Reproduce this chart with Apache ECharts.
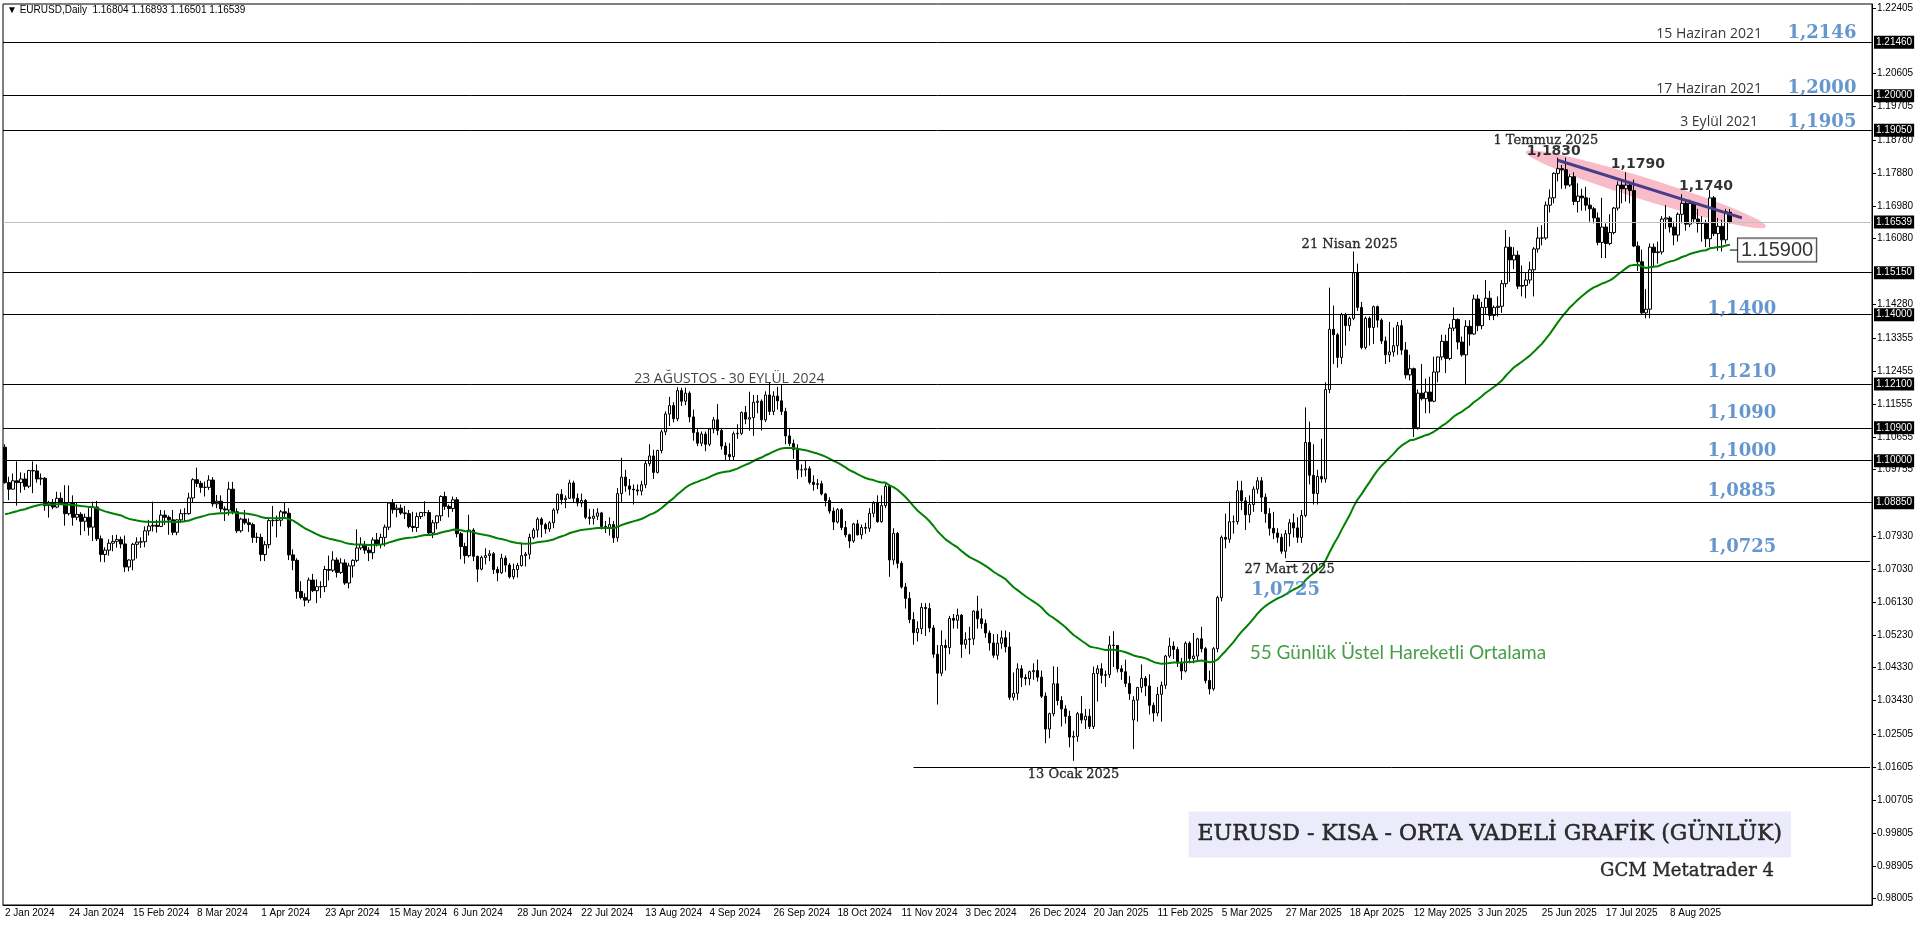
<!DOCTYPE html>
<html><head><meta charset="utf-8">
<script src="https://cdn.jsdelivr.net/npm/echarts@6.0.0/dist/echarts.min.js"></script>
<style>html,body{margin:0;padding:0;background:#fff;overflow:hidden}#c{width:1920px;height:927px}</style>
</head><body><div id="c"></div>
<script>
// ---- DATA: daily candles [open, high, low, close] per month ----
const m2024_01=[[1.1037,1.1045,1.0937,1.0940],[1.0940,1.0956,1.0892,1.0922],[1.0922,1.0965,1.0921,1.0945],[1.0945,1.0998,1.0877,1.0940],[1.0940,1.0968,1.0912,1.0950],[1.0950,1.0966,1.0920,1.0930],[1.0930,1.0975,1.0925,1.0973],[1.0973,1.0998,1.0911,1.0972],[1.0972,1.0990,1.0940,1.0950],[1.0950,1.0965,1.0933,1.0952],[1.0952,1.0955,1.0863,1.0877],[1.0877,1.0890,1.0844,1.0884],[1.0884,1.0895,1.0867,1.0873],[1.0873,1.0915,1.0870,1.0897],[1.0897,1.0913,1.0880,1.0883],[1.0883,1.0933,1.0822,1.0855],[1.0855,1.0932,1.0850,1.0885],[1.0885,1.0905,1.0822,1.0845],[1.0845,1.0886,1.0837,1.0853],[1.0853,1.0859,1.0796,1.0834],[1.0834,1.0855,1.0807,1.0845],[1.0845,1.0870,1.0795,1.0818]];
const m2024_02=[[1.0818,1.0888,1.0780,1.0873],[1.0873,1.0890,1.0780,1.0786],[1.0786,1.0795,1.0723,1.0743],[1.0743,1.0763,1.0722,1.0755],[1.0755,1.0785,1.0740,1.0774],[1.0774,1.0796,1.0752,1.0779],[1.0779,1.0797,1.0762,1.0784],[1.0784,1.0792,1.0760,1.0772],[1.0772,1.0795,1.0695,1.0709],[1.0709,1.0730,1.0697,1.0728],[1.0728,1.0775,1.0700,1.0771],[1.0771,1.0790,1.0732,1.0777],[1.0777,1.0790,1.0761,1.0778],[1.0778,1.0820,1.0763,1.0808],[1.0808,1.0838,1.0795,1.0821],[1.0821,1.0888,1.0806,1.0823],[1.0823,1.0838,1.0803,1.0820],[1.0820,1.0865,1.0818,1.0851],[1.0851,1.0864,1.0824,1.0845],[1.0845,1.0850,1.0797,1.0838],[1.0838,1.0865,1.0796,1.0804]];
const m2024_03=[[1.0804,1.0840,1.0796,1.0838],[1.0838,1.0867,1.0830,1.0855],[1.0855,1.0870,1.0833,1.0855],[1.0855,1.0912,1.0852,1.0898],[1.0898,1.0952,1.0885,1.0948],[1.0948,1.0981,1.0928,1.0938],[1.0938,1.0945,1.0912,1.0927],[1.0927,1.0943,1.0902,1.0927],[1.0927,1.0960,1.0920,1.0947],[1.0947,1.0955,1.0874,1.0882],[1.0882,1.0906,1.0870,1.0889],[1.0889,1.0905,1.0858,1.0868],[1.0868,1.0875,1.0835,1.0865],[1.0865,1.0942,1.0850,1.0922],[1.0922,1.0942,1.0853,1.0860],[1.0860,1.0870,1.0802,1.0808],[1.0808,1.0844,1.0803,1.0840],[1.0840,1.0865,1.0825,1.0830],[1.0830,1.0842,1.0805,1.0825],[1.0825,1.0830,1.0775,1.0790],[1.0790,1.0803,1.0775,1.0790]];
const m2024_04=[[1.0790,1.0800,1.0725,1.0743],[1.0743,1.0780,1.0725,1.0770],[1.0770,1.0840,1.0760,1.0836],[1.0836,1.0876,1.0820,1.0836],[1.0836,1.0850,1.0790,1.0837],[1.0837,1.0865,1.0820,1.0860],[1.0860,1.0885,1.0842,1.0856],[1.0856,1.0870,1.0728,1.0742],[1.0742,1.0757,1.0700,1.0727],[1.0727,1.0733,1.0622,1.0642],[1.0642,1.0670,1.0620,1.0625],[1.0625,1.0637,1.0601,1.0618],[1.0618,1.0680,1.0610,1.0673],[1.0673,1.0690,1.0640,1.0644],[1.0644,1.0675,1.0610,1.0655],[1.0655,1.0670,1.0624,1.0655],[1.0655,1.0712,1.0640,1.0702],[1.0702,1.0740,1.0672,1.0700],[1.0700,1.0752,1.0695,1.0728],[1.0728,1.0735,1.0680,1.0694],[1.0694,1.0733,1.0690,1.0720],[1.0720,1.0730,1.0660,1.0665]];
const m2024_05=[[1.0665,1.0720,1.0650,1.0712],[1.0712,1.0730,1.0680,1.0727],[1.0727,1.0812,1.0722,1.0761],[1.0761,1.0790,1.0755,1.0770],[1.0770,1.0780,1.0745,1.0755],[1.0755,1.0763,1.0725,1.0748],[1.0748,1.0790,1.0730,1.0783],[1.0783,1.0802,1.0765,1.0770],[1.0770,1.0800,1.0760,1.0790],[1.0790,1.0825,1.0765,1.0818],[1.0818,1.0885,1.0810,1.0884],[1.0884,1.0895,1.0855,1.0866],[1.0866,1.0880,1.0845,1.0870],[1.0870,1.0880,1.0852,1.0857],[1.0857,1.0876,1.0840,1.0855],[1.0855,1.0865,1.0815,1.0820],[1.0820,1.0860,1.0805,1.0817],[1.0817,1.0858,1.0805,1.0847],[1.0847,1.0860,1.0840,1.0858],[1.0858,1.0889,1.0848,1.0858],[1.0858,1.0865,1.0795,1.0802],[1.0802,1.0838,1.0788,1.0830],[1.0830,1.0850,1.0812,1.0849]];
const m2024_06=[[1.0849,1.0905,1.0835,1.0902],[1.0902,1.0915,1.0865,1.0875],[1.0875,1.0880,1.0845,1.0869],[1.0869,1.0902,1.0860,1.0893],[1.0893,1.0900,1.0790,1.0800],[1.0800,1.0805,1.0730,1.0765],[1.0765,1.0775,1.0718,1.0740],[1.0740,1.0852,1.0735,1.0810],[1.0810,1.0815,1.0725,1.0738],[1.0738,1.0740,1.0668,1.0703],[1.0703,1.0740,1.0700,1.0735],[1.0735,1.0760,1.0716,1.0740],[1.0740,1.0755,1.0725,1.0745],[1.0745,1.0750,1.0690,1.0702],[1.0702,1.0710,1.0670,1.0693],[1.0693,1.0745,1.0690,1.0733],[1.0733,1.0740,1.0695,1.0714],[1.0714,1.0720,1.0677,1.0682],[1.0682,1.0718,1.0675,1.0702],[1.0702,1.0720,1.0680,1.0713]];
const m2024_07=[[1.0713,1.0776,1.0710,1.0740],[1.0740,1.0750,1.0710,1.0744],[1.0744,1.0800,1.0730,1.0790],[1.0790,1.0816,1.0785,1.0810],[1.0810,1.0845,1.0790,1.0840],[1.0840,1.0845,1.0790,1.0825],[1.0825,1.0830,1.0800,1.0813],[1.0813,1.0835,1.0805,1.0830],[1.0830,1.0870,1.0815,1.0865],[1.0865,1.0910,1.0855,1.0908],[1.0908,1.0922,1.0880,1.0893],[1.0893,1.0905,1.0870,1.0897],[1.0897,1.0948,1.0895,1.0939],[1.0939,1.0945,1.0885,1.0897],[1.0897,1.0910,1.0875,1.0884],[1.0884,1.0910,1.0873,1.0891],[1.0891,1.0895,1.0840,1.0845],[1.0845,1.0868,1.0825,1.0842],[1.0842,1.0868,1.0825,1.0848],[1.0848,1.0870,1.0838,1.0857],[1.0857,1.0860,1.0812,1.0820],[1.0820,1.0835,1.0802,1.0817],[1.0817,1.0845,1.0795,1.0825]];
const m2024_08=[[1.0825,1.0835,1.0775,1.0789],[1.0789,1.0925,1.0778,1.0910],[1.0910,1.1008,1.0885,1.0955],[1.0955,1.0975,1.0915,1.0931],[1.0931,1.0950,1.0905,1.0922],[1.0922,1.0935,1.0880,1.0920],[1.0920,1.0935,1.0905,1.0917],[1.0917,1.0945,1.0905,1.0934],[1.0934,1.1000,1.0925,1.0992],[1.0992,1.1045,1.0985,1.1013],[1.1013,1.1030,1.0950,1.0968],[1.0968,1.1030,1.0965,1.1028],[1.1028,1.1085,1.1020,1.1079],[1.1079,1.1135,1.1070,1.1128],[1.1128,1.1175,1.1095,1.1151],[1.1151,1.1160,1.1105,1.1115],[1.1115,1.1201,1.1108,1.1192],[1.1192,1.1200,1.1150,1.1163],[1.1163,1.1200,1.1152,1.1185],[1.1185,1.1190,1.1105,1.1120],[1.1120,1.1140,1.1055,1.1077],[1.1077,1.1090,1.1040,1.1048]];
const m2024_09=[[1.1048,1.1080,1.1040,1.1073],[1.1073,1.1080,1.1026,1.1045],[1.1045,1.1090,1.1040,1.1087],[1.1087,1.1120,1.1075,1.1112],[1.1112,1.1155,1.1070,1.1083],[1.1083,1.1090,1.1030,1.1040],[1.1040,1.1050,1.1002,1.1017],[1.1017,1.1048,1.1000,1.1011],[1.1011,1.1080,1.1000,1.1074],[1.1074,1.1100,1.1060,1.1075],[1.1075,1.1135,1.1070,1.1132],[1.1132,1.1150,1.1100,1.1114],[1.1114,1.1189,1.1082,1.1118],[1.1118,1.1180,1.1068,1.1160],[1.1160,1.1180,1.1130,1.1163],[1.1163,1.1168,1.1083,1.1112],[1.1112,1.1190,1.1106,1.1180],[1.1180,1.1214,1.1125,1.1135],[1.1135,1.1190,1.1125,1.1177],[1.1177,1.1202,1.1140,1.1164],[1.1164,1.1209,1.1125,1.1135]];
const m2024_10=[[1.1135,1.1145,1.1045,1.1068],[1.1068,1.1090,1.1040,1.1047],[1.1047,1.1058,1.1005,1.1031],[1.1031,1.1045,1.0950,1.0975],[1.0975,1.0990,1.0955,1.0975],[1.0975,1.1000,1.0957,1.0978],[1.0978,1.0985,1.0935,1.0941],[1.0941,1.0960,1.0918,1.0935],[1.0935,1.0950,1.0922,1.0937],[1.0937,1.0945,1.0905,1.0909],[1.0909,1.0912,1.0875,1.0891],[1.0891,1.0900,1.0855,1.0862],[1.0862,1.0872,1.0810,1.0832],[1.0832,1.0870,1.0828,1.0866],[1.0866,1.0870,1.0810,1.0817],[1.0817,1.0835,1.0790,1.0797],[1.0797,1.0800,1.0761,1.0780],[1.0780,1.0830,1.0775,1.0827],[1.0827,1.0838,1.0795,1.0797],[1.0797,1.0825,1.0785,1.0817],[1.0817,1.0830,1.0800,1.0815],[1.0815,1.0870,1.0805,1.0856],[1.0856,1.0889,1.0845,1.0884]];
const m2024_11=[[1.0884,1.0905,1.0830,1.0833],[1.0833,1.0905,1.0830,1.0877],[1.0877,1.0937,1.0870,1.0930],[1.0930,1.0935,1.0682,1.0728],[1.0728,1.0815,1.0715,1.0801],[1.0801,1.0805,1.0705,1.0719],[1.0719,1.0725,1.0650,1.0654],[1.0654,1.0665,1.0595,1.0623],[1.0623,1.0640,1.0555,1.0565],[1.0565,1.0585,1.0496,1.0529],[1.0529,1.0560,1.0505,1.0540],[1.0540,1.0610,1.0525,1.0598],[1.0598,1.0610,1.0520,1.0595],[1.0595,1.0610,1.0530,1.0542],[1.0542,1.0550,1.0460,1.0470],[1.0470,1.0495,1.0332,1.0418],[1.0418,1.0535,1.0410,1.0494],[1.0494,1.0510,1.0425,1.0488],[1.0488,1.0575,1.0470,1.0568],[1.0568,1.0580,1.0540,1.0563],[1.0563,1.0595,1.0540,1.0577]];
const m2024_12=[[1.0577,1.0580,1.0460,1.0497],[1.0497,1.0530,1.0485,1.0510],[1.0510,1.0545,1.0470,1.0512],[1.0512,1.0590,1.0495,1.0588],[1.0588,1.0630,1.0540,1.0567],[1.0567,1.0595,1.0540,1.0554],[1.0554,1.0565,1.0515,1.0528],[1.0528,1.0535,1.0480,1.0501],[1.0501,1.0525,1.0460,1.0467],[1.0467,1.0525,1.0455,1.0500],[1.0500,1.0535,1.0485,1.0515],[1.0515,1.0535,1.0475,1.0490],[1.0490,1.0530,1.0345,1.0352],[1.0352,1.0420,1.0343,1.0363],[1.0363,1.0445,1.0345,1.0430],[1.0430,1.0440,1.0380,1.0406],[1.0406,1.0415,1.0385,1.0403],[1.0403,1.0425,1.0385,1.0422],[1.0422,1.0445,1.0400,1.0425],[1.0425,1.0455,1.0395,1.0407],[1.0407,1.0425,1.0350,1.0355]];
const m2025_01=[[1.0355,1.0365,1.0226,1.0265],[1.0265,1.0310,1.0240,1.0307],[1.0307,1.0437,1.0300,1.0389],[1.0389,1.0435,1.0330,1.0343],[1.0343,1.0355,1.0272,1.0320],[1.0320,1.0330,1.0280,1.0300],[1.0300,1.0315,1.0215,1.0243],[1.0243,1.0260,1.0178,1.0245],[1.0245,1.0312,1.0230,1.0307],[1.0307,1.0355,1.0280,1.0290],[1.0290,1.0320,1.0265,1.0300],[1.0300,1.0320,1.0265,1.0272],[1.0272,1.0436,1.0265,1.0417],[1.0417,1.0440,1.0340,1.0430],[1.0430,1.0445,1.0390,1.0412],[1.0412,1.0425,1.0380,1.0414],[1.0414,1.0520,1.0405,1.0495],[1.0495,1.0533,1.0435,1.0494],[1.0494,1.0495,1.0420,1.0430],[1.0430,1.0440,1.0400,1.0422],[1.0422,1.0455,1.0380,1.0390],[1.0390,1.0410,1.0345,1.0362]];
const m2025_02=[[1.0290,1.0355,1.0210,1.0344],[1.0344,1.0380,1.0285,1.0379],[1.0379,1.0442,1.0365,1.0404],[1.0404,1.0410,1.0355,1.0383],[1.0383,1.0415,1.0305,1.0330],[1.0330,1.0338,1.0285,1.0309],[1.0309,1.0380,1.0300,1.0360],[1.0360,1.0395,1.0285,1.0385],[1.0385,1.0468,1.0375,1.0465],[1.0465,1.0515,1.0460,1.0492],[1.0492,1.0505,1.0457,1.0483],[1.0483,1.0490,1.0435,1.0446],[1.0446,1.0460,1.0400,1.0424],[1.0424,1.0505,1.0420,1.0500],[1.0500,1.0505,1.0445,1.0458],[1.0458,1.0528,1.0445,1.0465],[1.0465,1.0515,1.0450,1.0512],[1.0512,1.0545,1.0475,1.0485],[1.0485,1.0490,1.0390,1.0398],[1.0398,1.0425,1.0360,1.0375]];
const m2025_03=[[1.0375,1.0490,1.0370,1.0485],[1.0485,1.0630,1.0475,1.0625],[1.0625,1.0795,1.0615,1.0790],[1.0790,1.0855,1.0760,1.0785],[1.0785,1.0888,1.0775,1.0833],[1.0833,1.0850,1.0800,1.0833],[1.0833,1.0945,1.0825,1.0918],[1.0918,1.0945,1.0865,1.0890],[1.0890,1.0900,1.0810,1.0852],[1.0852,1.0905,1.0830,1.0880],[1.0880,1.0930,1.0860,1.0922],[1.0922,1.0955,1.0910,1.0945],[1.0945,1.0955,1.0860,1.0900],[1.0900,1.0910,1.0830,1.0855],[1.0855,1.0870,1.0795,1.0815],[1.0815,1.0860,1.0785,1.0802],[1.0802,1.0815,1.0775,1.0790],[1.0790,1.0800,1.0745,1.0752],[1.0752,1.0810,1.0733,1.0800],[1.0800,1.0840,1.0765,1.0830],[1.0830,1.0855,1.0790,1.0816]];
const m2025_04=[[1.0816,1.0845,1.0775,1.0790],[1.0790,1.0865,1.0775,1.0850],[1.0850,1.1146,1.0845,1.1050],[1.1050,1.1107,1.0935,1.0960],[1.0960,1.1045,1.0880,1.0910],[1.0910,1.0975,1.0880,1.0957],[1.0957,1.1060,1.0940,1.0950],[1.0950,1.1215,1.0940,1.1195],[1.1195,1.1474,1.1185,1.1360],[1.1360,1.1425,1.1265,1.1345],[1.1345,1.1350,1.1255,1.1283],[1.1283,1.1405,1.1265,1.1400],[1.1400,1.1405,1.1315,1.1370],[1.1370,1.1395,1.1355,1.1390],[1.1390,1.1573,1.1385,1.1515],[1.1515,1.1540,1.1410,1.1420],[1.1420,1.1435,1.1305,1.1310],[1.1310,1.1395,1.1305,1.1390],[1.1390,1.1395,1.1315,1.1365],[1.1365,1.1425,1.1320,1.1422],[1.1422,1.1425,1.1365,1.1385],[1.1385,1.1390,1.1320,1.1328]];
const m2025_05=[[1.1328,1.1340,1.1265,1.1290],[1.1290,1.1380,1.1270,1.1298],[1.1298,1.1365,1.1285,1.1315],[1.1315,1.1380,1.1290,1.1370],[1.1370,1.1385,1.1290,1.1303],[1.1303,1.1325,1.1225,1.1235],[1.1235,1.1290,1.1220,1.1252],[1.1252,1.1255,1.1065,1.1090],[1.1090,1.1195,1.1085,1.1185],[1.1185,1.1265,1.1165,1.1170],[1.1170,1.1225,1.1130,1.1188],[1.1188,1.1230,1.1130,1.1163],[1.1163,1.1285,1.1160,1.1243],[1.1243,1.1285,1.1215,1.1284],[1.1284,1.1345,1.1275,1.1327],[1.1327,1.1345,1.1240,1.1280],[1.1280,1.1375,1.1275,1.1363],[1.1363,1.1420,1.1355,1.1387],[1.1387,1.1390,1.1305,1.1325],[1.1325,1.1340,1.1285,1.1290],[1.1290,1.1385,1.1210,1.1368],[1.1368,1.1385,1.1315,1.1347]];
const m2025_06=[[1.1347,1.1455,1.1345,1.1443],[1.1443,1.1455,1.1355,1.1370],[1.1370,1.1435,1.1360,1.1420],[1.1420,1.1495,1.1400,1.1445],[1.1445,1.1465,1.1385,1.1398],[1.1398,1.1425,1.1385,1.1420],[1.1420,1.1450,1.1395,1.1423],[1.1423,1.1495,1.1405,1.1485],[1.1485,1.1632,1.1475,1.1585],[1.1585,1.1613,1.1490,1.1550],[1.1550,1.1585,1.1525,1.1563],[1.1563,1.1575,1.1470,1.1478],[1.1478,1.1535,1.1450,1.1480],[1.1480,1.1515,1.1445,1.1495],[1.1495,1.1545,1.1485,1.1523],[1.1523,1.1585,1.1450,1.1580],[1.1580,1.1640,1.1570,1.1610],[1.1610,1.1645,1.1590,1.1610],[1.1610,1.1710,1.1605,1.1700],[1.1700,1.1743,1.1680,1.1720],[1.1720,1.1790,1.1705,1.1787]];
const m2025_07=[[1.1787,1.1830,1.1765,1.1800],[1.1800,1.1810,1.1745,1.1797],[1.1797,1.1830,1.1745,1.1755],[1.1755,1.1785,1.1750,1.1778],[1.1778,1.1790,1.1700,1.1710],[1.1710,1.1760,1.1680,1.1725],[1.1725,1.1745,1.1685,1.1720],[1.1720,1.1750,1.1685,1.1700],[1.1700,1.1720,1.1655,1.1690],[1.1690,1.1695,1.1650,1.1665],[1.1665,1.1680,1.1590,1.1598],[1.1598,1.1720,1.1555,1.1640],[1.1640,1.1650,1.1555,1.1595],[1.1595,1.1675,1.1590,1.1625],[1.1625,1.1695,1.1620,1.1692],[1.1692,1.1765,1.1685,1.1755],[1.1755,1.1770,1.1705,1.1745],[1.1745,1.1790,1.1710,1.1755],[1.1755,1.1760,1.1705,1.1740],[1.1740,1.1770,1.1585,1.1588],[1.1588,1.1600,1.1520,1.1545],[1.1545,1.1578,1.1400,1.1405],[1.1405,1.1470,1.1390,1.1415]];
const m2025_08=[[1.1415,1.1595,1.1390,1.1585],[1.1585,1.1595,1.1530,1.1570],[1.1570,1.1600,1.1540,1.1572],[1.1572,1.1670,1.1565,1.1662],[1.1662,1.1700,1.1635,1.1665],[1.1665,1.1670,1.1625,1.1640],[1.1640,1.1655,1.1590,1.1618],[1.1618,1.1680,1.1600,1.1675],[1.1675,1.1730,1.1650,1.1705],[1.1705,1.1715,1.1630,1.1648],[1.1648,1.1715,1.1640,1.1705],[1.1705,1.1710,1.1650,1.1662],[1.1662,1.1690,1.1625,1.1650],[1.1650,1.1670,1.1600,1.1650],[1.1650,1.1660,1.1585,1.1608],[1.1608,1.1742,1.1585,1.1720],[1.1720,1.1725,1.1615,1.1622],[1.1622,1.1665,1.1575,1.1642],[1.1642,1.1660,1.1573,1.1605],[1.1605,1.1690,1.1595,1.1682],[1.16804,1.16893,1.16501,1.16539]];

// calendar
const firstDay = [2024, 0, 2];
const closedDays = ['2024-12-25', '2025-01-01'];
const futureBars = 35;           // empty right margin of the MT4 chart (chart shift)
const monthNames = ['Jan','Feb','Mar','Apr','May','Jun','Jul','Aug','Sep','Oct','Nov','Dec'];

// price axis tick labels, as printed by MT4
const tickLabels = [1.22405,1.20605,1.19705,1.18780,1.17880,1.16980,1.16080,1.14280,1.13355,1.12455,1.11555,1.10655,1.09755,1.07930,1.07030,1.06130,1.05230,1.04330,1.03430,1.02505,1.01605,1.00705,0.99805,0.98905,0.98005];
const priceMin = 0.9783, priceMax = 1.2251;

// horizontal levels
const fullLevels = [1.2146, 1.2000, 1.1905, 1.1515, 1.1400, 1.1210, 1.1090, 1.1000, 1.0885];
const partialLevels = [[320, 1.0725], [227, 1.01605]];   // [start bar, price]

// EMA 55
const emaPeriod = 55, emaSeed = 1.0850;

// trend line and highlight ellipse [bar, price]
const trendLine = [[388, 1.1823], [434, 1.1665]];
const ellipseEnds = [[380, 1.1846], [440, 1.1641]];
const emaTag = [[431, 1.1577], [433, 1.1577]];

// text notes [text, bar, price, kind]
const notes = [
  ['15 Haziran 2021', 439, 1.2169, 'ref'],
  ['1,2146', 454, 1.2171, 'lvl'],
  ['17 Haziran 2021', 439, 1.2018, 'ref'],
  ['1,2000', 454, 1.2020, 'lvl'],
  ['3 Eylül 2021', 438, 1.1927, 'ref'],
  ['1,1905', 454, 1.1926, 'lvl'],
  ['1 Temmuz 2025', 385, 1.1878, 'date'],
  ['1,1830', 387, 1.1846, 'peak'],
  ['1,1790', 408, 1.1812, 'peak'],
  ['1,1740', 425, 1.1752, 'peak'],
  ['21 Nisan 2025', 336, 1.1593, 'date'],
  ['1.15900', 433, 1.1577, 'box'],
  ['1,1400', 434, 1.1416, 'lvl'],
  ['1,1210', 434, 1.1242, 'lvl'],
  ['1,1090', 434, 1.1131, 'lvl'],
  ['1,1000', 434, 1.1027, 'lvl'],
  ['1,0885', 434, 1.0916, 'lvl'],
  ['1,0725', 434, 1.0762, 'lvl'],
  ['23 AĞUSTOS - 30 EYLÜL 2024', 181, 1.1223, 'range'],
  ['27 Mart 2025', 321, 1.0702, 'date'],
  ['1,0725', 320, 1.0645, 'lvl'],
  ['55 Günlük Üstel Hareketli Ortalama', 311, 1.0474, 'ema'],
  ['13 Ocak 2025', 267, 1.0141, 'date'],
  ['EURUSD - KISA - ORTA VADELİ GRAFİK (GÜNLÜK)', 371, 0.9976, 'title'],
  ['GCM Metatrader 4', 442, 0.9876, 'credit']
];

// ---- build ----
const candles = [].concat(m2024_01,m2024_02,m2024_03,m2024_04,m2024_05,m2024_06,m2024_07,m2024_08,m2024_09,m2024_10,m2024_11,m2024_12,m2025_01,m2025_02,m2025_03,m2025_04,m2025_05,m2025_06,m2025_07,m2025_08);
const lastIdx = candles.length - 1;
const dates = [];
let t = Date.UTC(firstDay[0], firstDay[1], firstDay[2]);
while (dates.length < candles.length + futureBars) {
  const d = new Date(t), wd = d.getUTCDay(), iso = d.toISOString().slice(0, 10);
  if (wd !== 0 && wd !== 6 && closedDays.indexOf(iso) < 0)
    dates.push(d.getUTCDate() + ' ' + monthNames[d.getUTCMonth()] + ' ' + d.getUTCFullYear());
  t += 86400000;
}
const kData = candles.map(r => [r[0], r[3], r[2], r[1]]);
let e = emaSeed;
const ema = candles.map(r => { e = e + (r[3] - e) * 2 / (emaPeriod + 1); return +e.toFixed(5); });
const last = candles[lastIdx];
const lastClose = last[3];

const AX = "'Liberation Sans', Arial, sans-serif";
const SERIF = "'DejaVu Serif', serif";
const boxLabel = v => ({show: true, position: 'end', distance: 2, formatter: v.toFixed(5), color: '#fff', backgroundColor: '#000', padding: [2, 2, 1, 2], fontSize: 10, fontFamily: AX});

const markData = fullLevels.map(v => ({yAxis: v, lineStyle: {color: '#000', width: 1, type: 'solid'}, label: boxLabel(v)}));
markData.push({yAxis: lastClose, lineStyle: {color: '#c0c0c0', width: 1, type: 'solid'}, label: boxLabel(lastClose)});
partialLevels.forEach(p => markData.push([
  {xAxis: dates[p[0]], yAxis: p[1], lineStyle: {color: '#000', width: 1, type: 'solid'}, label: {show: false}},
  {xAxis: dates[dates.length - 1], yAxis: p[1]}
]));

const styles = {
  ref:    {align: 'right', fontFamily: "'Open Sans', sans-serif", fontSize: 14, color: '#000'},
  lvl:    {align: 'center', fontFamily: SERIF, fontWeight: 'bold', fontSize: 18, color: '#3f7cc0'},
  date:   {align: 'center', fontFamily: SERIF, fontSize: 13, color: '#000', textBorderColor: '#000', textBorderWidth: 0.35},
  peak:   {align: 'center', fontFamily: "'DejaVu Sans', sans-serif", fontWeight: 'bold', fontSize: 14, color: '#000'},
  range:  {align: 'center', fontFamily: "'Open Sans', sans-serif", fontSize: 14, color: '#111'},
  ema:    {align: 'left', fontFamily: "Lato, sans-serif", fontSize: 19, color: '#1a861a'},
  title:  {align: 'center', fontFamily: SERIF, fontSize: 22, color: '#000', textBorderColor: '#000', textBorderWidth: 0.5, backgroundColor: '#e6e6fa', padding: [12, 9, 12, 9]},
  credit: {align: 'right', fontFamily: SERIF, fontSize: 18, color: '#000', textBorderColor: '#000', textBorderWidth: 0.4},
  box:    {align: 'left', fontFamily: AX, fontSize: 20, color: '#000', backgroundColor: '#fff', borderColor: '#000', borderWidth: 1, padding: [2, 3, 1, 3]}
};
const noteData = notes.map(n => ({
  value: [dates[n[1]], n[2]],
  label: Object.assign({show: true, position: 'inside', verticalAlign: 'middle', formatter: n[0]}, styles[n[3]])
}));

const showEvery16 = i => i % 16 === 0 && i <= lastIdx;

const chart = echarts.init(document.getElementById('c'));
chart.setOption({
  animation: false,
  backgroundColor: '#fff',
  title: {
    text: '▼ EURUSD,Daily  ' + last.map(v => v.toFixed(5)).join(' '),
    left: 7, top: 5, padding: 0,
    textStyle: {fontSize: 10, fontWeight: 'normal', color: '#000', fontFamily: AX}
  },
  grid: {left: 3, right: 48, top: 4, bottom: 22, show: true, borderColor: '#000', borderWidth: 1, backgroundColor: '#fff'},
  xAxis: {
    type: 'category', data: dates, boundaryGap: true,
    axisLine: {lineStyle: {color: '#000', width: 1}},
    axisTick: {interval: showEvery16, alignWithLabel: true, length: 4, lineStyle: {color: '#000'}},
    axisLabel: {interval: showEvery16, align: 'left', margin: 3, fontSize: 10, color: '#000', fontFamily: AX},
    splitLine: {show: false}
  },
  yAxis: {
    type: 'value', position: 'right', min: priceMin, max: priceMax, scale: true,
    axisLine: {show: true, lineStyle: {color: '#000', width: 1}},
    axisTick: {show: true, customValues: tickLabels, length: 4, lineStyle: {color: '#000'}},
    axisLabel: {customValues: tickLabels, formatter: v => v.toFixed(5), fontSize: 10, color: '#000', margin: 5, fontFamily: AX},
    splitLine: {show: false}
  },
  series: [
    {
      type: 'custom', z: 1, silent: true,
      data: [[dates[ellipseEnds[0][0]], ellipseEnds[0][1], dates[ellipseEnds[1][0]], ellipseEnds[1][1]]],
      encode: {x: [0, 2], y: [1, 3]},
      renderItem: (params, api) => {
        const p1 = api.coord([api.value(0), api.value(1)]);
        const p2 = api.coord([api.value(2), api.value(3)]);
        const cx = (p1[0] + p2[0]) / 2, cy = (p1[1] + p2[1]) / 2;
        const a = Math.hypot(p2[0] - p1[0], p2[1] - p1[1]) / 2, b = 11;
        const ang = Math.atan2(p2[1] - p1[1], p2[0] - p1[0]);
        const pts = [];
        for (let k = 0; k < 72; k++) {
          const th = k / 72 * Math.PI * 2, x = a * Math.cos(th), y = b * Math.sin(th);
          pts.push([cx + x * Math.cos(ang) - y * Math.sin(ang), cy + x * Math.sin(ang) + y * Math.cos(ang)]);
        }
        return {type: 'polygon', shape: {points: pts}, style: {fill: '#f7bcc8'}};
      }
    },
    {
      type: 'candlestick', z: 2, data: kData, barWidth: 3,
      itemStyle: {color: '#fff', color0: '#000', borderColor: '#000', borderColor0: '#000', borderColorDoji: '#000', borderWidth: 1},
      markLine: {silent: true, precision: 5, symbol: ['none', 'none'], animation: false, data: markData}
    },
    {
      type: 'line', z: 3, data: ema, showSymbol: false, symbol: 'none', silent: true,
      lineStyle: {color: '#008000', width: 2}
    },
    {
      type: 'line', z: 4, data: trendLine.map(p => [dates[p[0]], p[1]]), showSymbol: false, symbol: 'none', silent: true,
      lineStyle: {color: '#483d8b', width: 3}
    },
    {
      type: 'line', z: 4, data: emaTag.map(p => [dates[p[0]], p[1]]), showSymbol: false, symbol: 'none', silent: true,
      lineStyle: {color: '#000', width: 1}
    },
    {
      type: 'scatter', z: 6, data: noteData, symbol: 'circle', symbolSize: 1, silent: true,
      itemStyle: {color: 'rgba(0,0,0,0)'}
    }
  ]
});
</script></body></html>
